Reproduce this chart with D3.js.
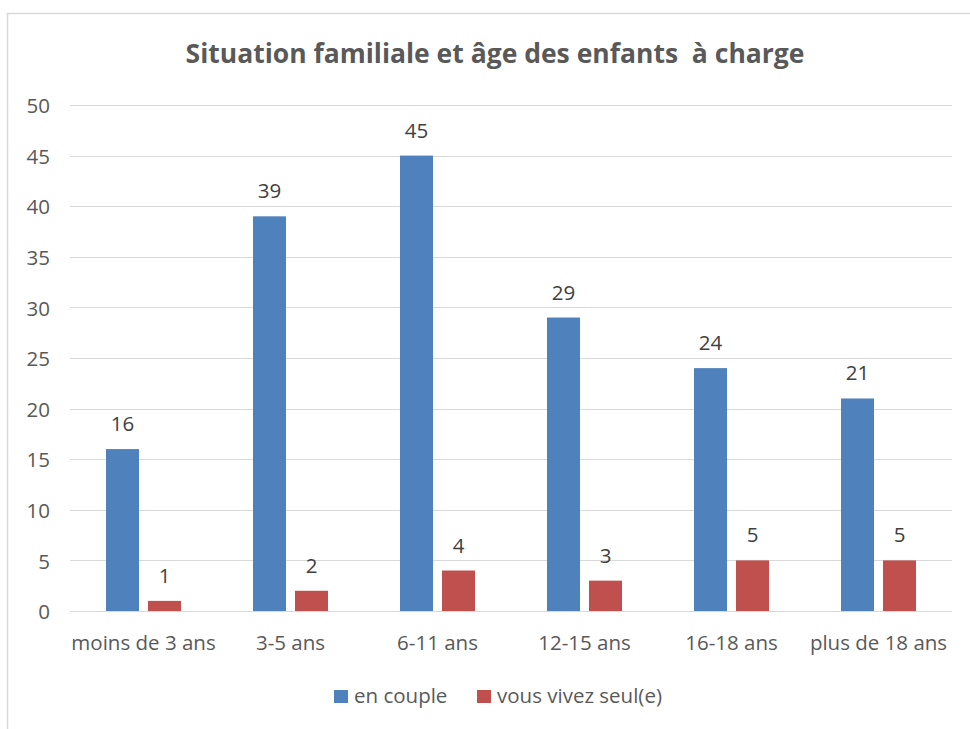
<!DOCTYPE html>
<html>
<head>
<meta charset="utf-8">
<script src="https://cdn.jsdelivr.net/npm/d3@7"></script>
<style>
  body { margin: 0; background: #fff; }
  svg text { font-family: "Open Sans", "Noto Sans", sans-serif; }
</style>
</head>
<body>
<div id="chart"></div>
<script>
// ---- Data -------------------------------------------------------------------
const categories = ["moins de 3 ans", "3-5 ans", "6-11 ans", "12-15 ans", "16-18 ans", "plus de 18 ans"];
const seriesNames = ["en couple", "vous vivez seul(e)"];
const enCouple = [16, 39, 45, 29, 24, 21];
const seul = [1, 2, 4, 3, 5, 5];
const yTicks = [0, 5, 10, 15, 20, 25, 30, 35, 40, 45, 50];
const title = "Situation familiale et âge des enfants\u00a0 à charge";

const colors = ["#4f81bd", "#c0504d"];
const textColor = "#595959";
const font = "'Open Sans', 'Noto Sans', sans-serif";
const fs = 20.5;

const width = 970, height = 729;
const margin = { left: 70, right: 18, top: 105, bottom: 118 };

const svg = d3.select("#chart").append("svg")
  .attr("width", width).attr("height", height);

// chart border (right/bottom run off the picture)
svg.append("rect")
  .attr("x", 7.5).attr("y", 13.5)
  .attr("width", 980).attr("height", 740)
  .attr("fill", "none").attr("stroke", "#d9d9d9").attr("stroke-width", 1.5);

const x0 = d3.scaleBand()
  .domain(categories)
  .range([margin.left, width - margin.right]);

const x1 = d3.scaleBand()
  .domain(seriesNames)
  .range([0, x0.bandwidth()])
  .paddingInner(0.214).paddingOuter(0.857);

const y = d3.scaleLinear()
  .domain([0, 50])
  .range([height - margin.bottom, margin.top]);

// gridlines
svg.append("g")
  .selectAll("line")
  .data(yTicks)
  .join("line")
  .attr("x1", margin.left).attr("x2", width - margin.right)
  .attr("y1", d => Math.round(y(d)) + 0.5).attr("y2", d => Math.round(y(d)) + 0.5)
  .attr("stroke", "#d9d9d9").attr("stroke-width", 1);

// y axis labels
const yAxis = d3.axisLeft(y).tickValues(yTicks).tickSize(0).tickPadding(0);
const gy = svg.append("g").attr("transform", `translate(50,0)`).call(yAxis);
gy.select(".domain").remove();
gy.selectAll("text")
  .attr("font-size", fs).attr("fill", textColor).attr("dy", "0.38em")
  .attr("font-family", font);

// x axis labels
const xAxis = d3.axisBottom(x0).tickSize(0).tickPadding(0);
const gx = svg.append("g").attr("transform", `translate(0,${y(0)})`).call(xAxis);
gx.select(".domain").remove();
gx.selectAll("text")
  .attr("y", 39).attr("dy", 0)
  .attr("font-size", fs).attr("fill", textColor)
  .attr("font-family", font);

// bars
const rows = categories.map((c, i) => ({ cat: c, values: [enCouple[i], seul[i]] }));
const groups = svg.append("g")
  .selectAll("g")
  .data(rows)
  .join("g")
  .attr("transform", d => `translate(${x0(d.cat)},0)`);

groups.selectAll("rect")
  .data(d => d.values.map((v, j) => ({ name: seriesNames[j], v, j })))
  .join("rect")
  .attr("x", d => x1(d.name))
  .attr("width", x1.bandwidth())
  .attr("y", d => y(d.v))
  .attr("height", d => y(0) - y(d.v))
  .attr("fill", d => colors[d.j]);

// data labels
groups.selectAll("text")
  .data(d => d.values.map((v, j) => ({ name: seriesNames[j], v, j })))
  .join("text")
  .attr("x", d => x1(d.name) + x1.bandwidth() / 2)
  .attr("y", d => y(d.v) - 18)
  .attr("text-anchor", "middle")
  .attr("font-size", fs)
  .attr("fill", "#404040")
  .text(d => d.v);

// title
svg.append("text")
  .attr("x", 495).attr("y", 63)
  .attr("text-anchor", "middle")
  .attr("font-size", 26.5).attr("font-weight", "bold")
  .attr("fill", textColor)
  .text(title);

// legend
const legend = svg.append("g").attr("transform", "translate(334,703)");
const legendX = [0, 143];
seriesNames.forEach((name, i) => {
  const g = legend.append("g").attr("transform", `translate(${legendX[i]},0)`);
  g.append("rect").attr("x", 0).attr("y", -13).attr("width", 14).attr("height", 13).attr("fill", colors[i]);
  g.append("text").attr("x", 20).attr("y", 0)
    .attr("font-size", fs).attr("fill", textColor).text(name);
});
</script>
</body>
</html>
